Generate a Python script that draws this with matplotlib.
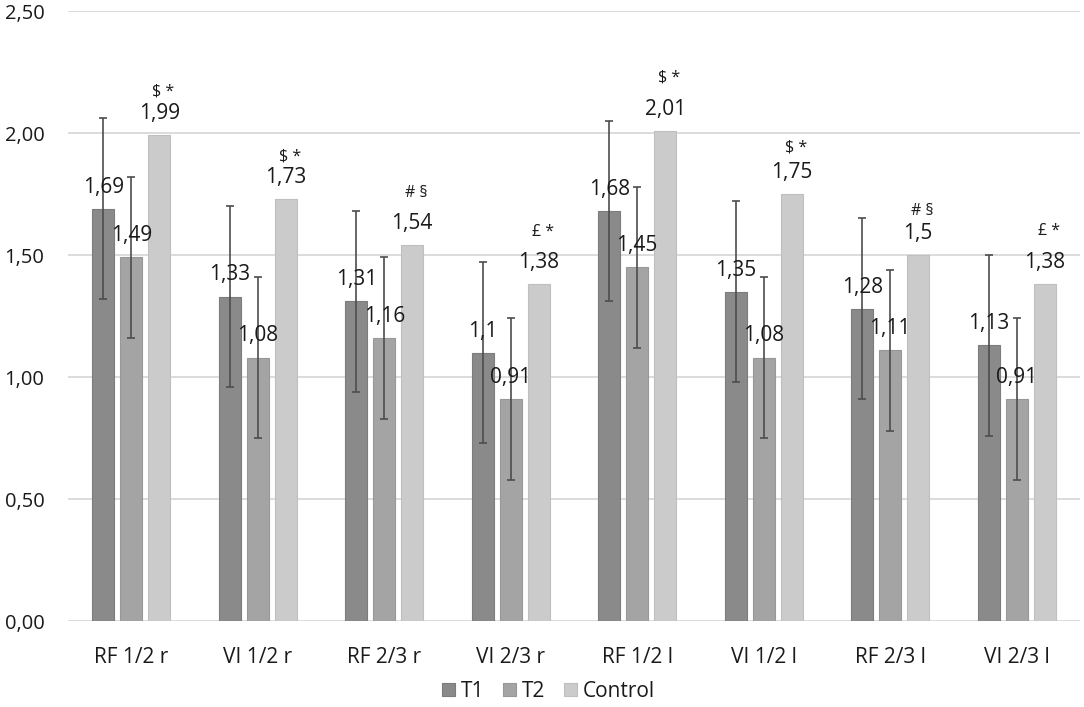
import matplotlib
matplotlib.use("Agg")
import matplotlib.pyplot as plt
import numpy as np

plt.rcParams['font.family'] = ['Open Sans', 'DejaVu Sans']

# data
categories = ['RF 1/2 r', 'VI 1/2 r', 'RF 2/3 r', 'VI 2/3 r',
              'RF 1/2 l', 'VI 1/2 l', 'RF 2/3 l', 'VI 2/3 l']
t1 = [1.69, 1.33, 1.31, 1.10, 1.68, 1.35, 1.28, 1.13]
t2 = [1.49, 1.08, 1.16, 0.91, 1.45, 1.08, 1.11, 0.91]
control = [1.99, 1.73, 1.54, 1.38, 2.01, 1.75, 1.50, 1.38]
t1_sd = [0.37, 0.37, 0.37, 0.37, 0.37, 0.37, 0.37, 0.37]
t2_sd = [0.33, 0.33, 0.33, 0.33, 0.33, 0.33, 0.33, 0.33]
signif = ['$ *', '$ *', '# §', '£ *', '$ *', '$ *', '# §', '£ *']
# vertical gap (points) between value label and significance marks
signif_gap = [16, 15, 22, 22, 23, 18, 16, 23]

yticks = [0, 0.5, 1.0, 1.5, 2.0, 2.5]


def fmt(v):
    s = ('%.2f' % v).rstrip('0').rstrip('.')
    return s.replace('.', ',')


fig = plt.figure(figsize=(10.84, 7.07), dpi=100)
ax = fig.add_axes([0.0627, 0.1216, 0.9336, 0.8628])

x = np.arange(len(categories))
w = 0.174
step = 0.221
txt = '#1a1a1a'

b1 = ax.bar(x - step, t1, w, color='#8a8a8a', edgecolor='#7c7c7c', linewidth=0.8,
            label='T1', zorder=2)
b2 = ax.bar(x, t2, w, color='#a4a4a4', edgecolor='#989898', linewidth=0.8,
            label='T2', zorder=2)
b3 = ax.bar(x + step, control, w, color='#cbcbcb', edgecolor='#bfbfbf', linewidth=0.8,
            label='Control', zorder=2)

ekw = dict(fmt='none', ecolor='#4d4d4d', elinewidth=1.2, capsize=2.8,
           capthick=1.2, zorder=3)
ax.errorbar(x - step, t1, yerr=t1_sd, **ekw)
ax.errorbar(x, t2, yerr=t2_sd, **ekw)

for bars, vals in ((b1, t1), (b2, t2), (b3, control)):
    for rect, v in zip(bars, vals):
        ax.annotate(fmt(v), (rect.get_x() + rect.get_width() / 2, v),
                    xytext=(0, 15.5), textcoords='offset points',
                    ha='center', va='center', fontsize=15, color=txt, zorder=4)

for rect, v, s, g in zip(b3, control, signif, signif_gap):
    ax.annotate(s, (rect.get_x() + rect.get_width() / 2, v),
                xytext=(3, 15.5 + g), textcoords='offset points',
                ha='center', va='center', fontsize=11.5, color=txt, zorder=4)

ax.set_xlim(-0.5, len(categories) - 0.5)
ax.set_ylim(0, 2.5)
ax.set_yticks(yticks)
ax.set_yticklabels([('%.2f' % t).replace('.', ',') for t in yticks])
ax.set_xticks(x)
ax.set_xticklabels(categories)
ax.tick_params(axis='y', length=0, pad=17, labelsize=14.5, labelcolor=txt)
ax.tick_params(axis='x', length=0, pad=19, labelsize=15, labelcolor=txt)
ax.grid(axis='y', color='#d9d9d9', linewidth=1.3, zorder=0)
ax.set_axisbelow(True)
for sp in ax.spines.values():
    sp.set_visible(False)

fig.legend(handles=[b1, b2, b3], labels=['T1', 'T2', 'Control'],
           loc='center', bbox_to_anchor=(0.506, 0.022), ncol=3, frameon=False,
           fontsize=15, handlelength=0.6, handleheight=0.6, handletextpad=0.3,
           columnspacing=0.9, labelcolor=txt)

fig.savefig('out.png', dpi=100)
